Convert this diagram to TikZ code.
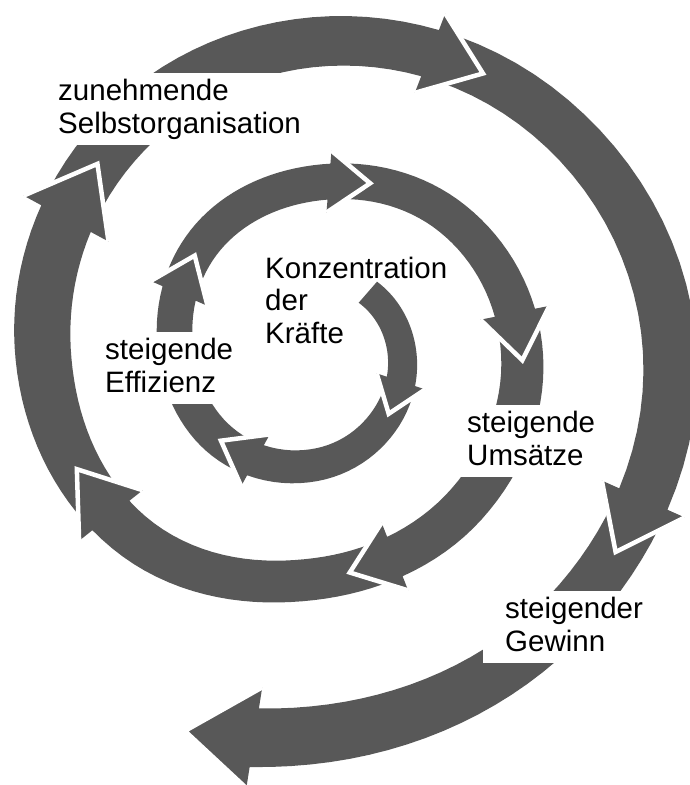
\documentclass[tikz,border=0pt]{standalone}
\usepackage{fontspec}
\setmainfont{Liberation Sans}
\definecolor{arrowfill}{RGB}{88,88,88}

% Spiral midline radius and band width, sampled every 45 degrees from -135
\def\rtab{{74,77,81,87,97,112,128,139,157,170,192,207,214,226,258,272,290,311,333,355,363,382,428,470,510}}
\def\wtab{{26,27,28,29,31,33,35,36,36,36,37,42,43,42,46,56,55,50,50,54,52,58,64,64,64}}

% Catmull-Rom interpolation in a table at angle #2
\newcommand\crspl[2]{%
  \pgfmathparse{(#2+135)/45}\let\cru\pgfmathresult
  \pgfmathtruncatemacro\cri{floor(\cru)}%
  \pgfmathsetmacro\crt{\cru-\cri}%
  \pgfmathsetmacro\crpa{#1[\cri-1]}%
  \pgfmathsetmacro\crpb{#1[\cri]}%
  \pgfmathsetmacro\crpc{#1[\cri+1]}%
  \pgfmathsetmacro\crpd{#1[\cri+2]}%
  \pgfmathparse{0.5*(2*\crpb+(\crpc-\crpa)*\crt+(2*\crpa-5*\crpb+4*\crpc-\crpd)*\crt*\crt+(3*\crpb-\crpa-3*\crpc+\crpd)*\crt*\crt*\crt)}%
}
\pgfmathdeclarefunction{spr}{1}{\begingroup\crspl\rtab{#1}\pgfmathsmuggle\pgfmathresult\endgroup}
\pgfmathdeclarefunction{spw}{1}{\begingroup\crspl\wtab{#1}\pgfmathsmuggle\pgfmathresult\endgroup}

\def\cx{315}
\def\cy{353}
\def\hlen{1.15}  % head length, in band widths
\def\hwid{0.86}  % half head base, in band widths

% angle of the head base for a tip at #1, stored in \hb
\newcommand\headbase[1]{%
  \pgfmathsetmacro\hbR{spr(#1)}%
  \pgfmathsetmacro\hbW{spw(#1)}%
  \pgfmathsetmacro\hb{#1-\hlen*\hbW/\hbR*57.29578}%
}

% one arrow of the spiral, from tail angle #1 to tip angle #2
\newcommand\spiralseg[2]{%
  \edef\segtail{#1}%
  \headbase{#2}\let\segbase\hb
  \pgfmathsetmacro\tipR{spr(#2)}%
  \pgfmathsetmacro\baseR{spr(\segbase)}%
  \pgfmathsetmacro\baseW{spw(\segbase)}%
  \coordinate (barbout) at ({\cx+(\baseR+\hwid*\baseW)*cos(\segbase)},{\cy+(\baseR+\hwid*\baseW)*sin(\segbase)});
  \coordinate (barbin) at ({\cx+(\baseR-\hwid*\baseW)*cos(\segbase)},{\cy+(\baseR-\hwid*\baseW)*sin(\segbase)});
  \coordinate (tip) at ({\cx+\tipR*cos(#2)},{\cy+\tipR*sin(#2)});
  \fill[arrowfill]
    plot[domain=\segtail:\segbase,samples=28] ({\cx+(spr(\x)+0.5*spw(\x))*cos(\x)},{\cy+(spr(\x)+0.5*spw(\x))*sin(\x)})
    -- (barbout) -- (tip) -- (barbin)
    -- plot[domain=\segbase:\segtail,samples=28] ({\cx+(spr(\x)-0.5*spw(\x))*cos(\x)},{\cy+(spr(\x)-0.5*spw(\x))*sin(\x)})
    -- cycle;
  \draw[gapline] (barbout) -- (tip) -- (barbin);
}

\tikzset{
  gapline/.style={white,line width=4.5pt,line join=miter},
  label/.style={font=\fontsize{29.5}{32.5}\selectfont,align=left,anchor=base west,
    text=black,inner ysep=6pt},
  cutout/.style={label,fill=white}
}

\begin{document}
\begin{tikzpicture}[x=1pt,y=-1pt]
\useasboundingbox (0,0) rectangle (690,785);

% outermost arrow first, so every head cuts its notch into the next tail
\headbase{753.5}\spiralseg{\hb}{829}
\headbase{661}\spiralseg{\hb}{753.5}
\headbase{581}\spiralseg{\hb}{661}
\headbase{514}\spiralseg{\hb}{581}
\headbase{441}\spiralseg{\hb}{514}
\headbase{362}\spiralseg{\hb}{441}
\headbase{288}\spiralseg{\hb}{362}
\headbase{219}\spiralseg{\hb}{288}
\headbase{137}\spiralseg{\hb}{219}
\headbase{39.5}\spiralseg{\hb}{137}
\spiralseg{-49}{39.5}

% labels (anchored at the baseline of their last line)
\node[cutout,inner xsep=16pt] (selbst) at (42,133) {zunehmende\\Selbstorganisation};
\node[label,inner xsep=0pt] (kraefte) at (265,343) {Konzentration\\der\\Kräfte};
\node[cutout,inner xsep=10pt] (effizienz) at (95,392) {steigende\\Effizienz\vphantom{g}};
\node[cutout,inner xsep=15pt] (umsaetze) at (452,465) {steigende\\Umsätze\vphantom{g}};
\node[cutout,inner xsep=22pt] (gewinn) at (483,651) {steigender\\Gewinn\vphantom{g}};
\end{tikzpicture}
\end{document}
